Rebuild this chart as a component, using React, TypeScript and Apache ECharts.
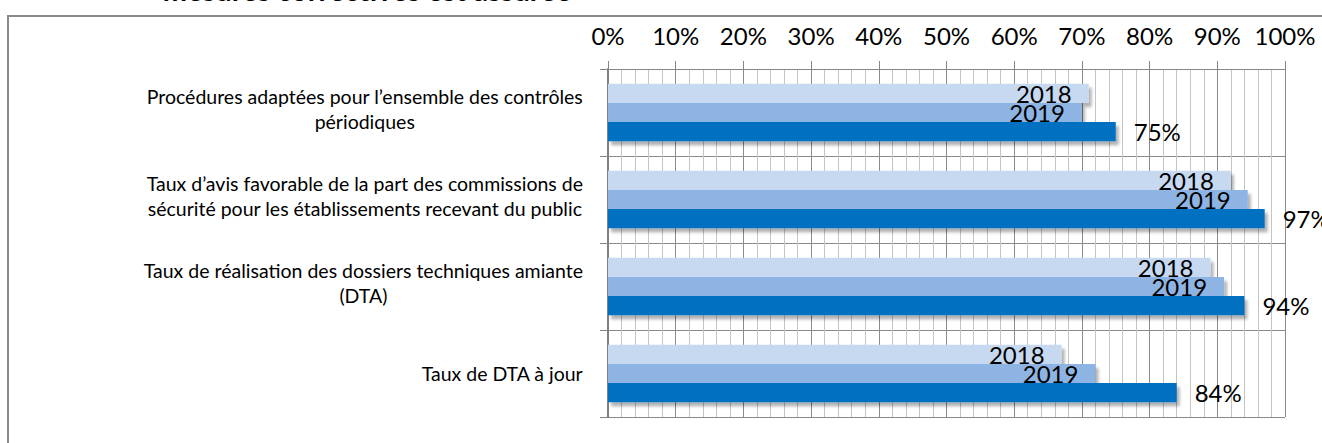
import React, { useEffect, useRef } from "react";
import * as echarts from "echarts";

const categories = [
  "Procédures adaptées pour l’ensemble des contrôles\npériodiques",
  "Taux d’avis favorable de la part des commissions de\nsécurité pour les établissements recevant du public",
  "Taux de réalisation des dossiers techniques amiante\n(DTA)",
  "Taux de DTA à jour",
];
const seriesNames = ["2018", "2019", "2020"];
const values2018 = [71, 92, 89, 67];
const values2019 = [70, 94.5, 91, 72];
const values2020 = [75, 97, 94, 84];
const titleText = "mesures correctives est assurée";

const FONT = "Lato, 'Liberation Sans', Arial, sans-serif";

export default function App() {
  const ref = useRef<HTMLDivElement>(null);
  useEffect(() => {
    if (!ref.current) return;
    const chart = echarts.init(ref.current, null, { renderer: "svg" });
    const shadow = {
      shadowColor: "rgba(0,0,0,0.3)",
      shadowBlur: 3,
      shadowOffsetX: 3,
      shadowOffsetY: 4,
    };
    const innerLabel = {
      show: true,
      position: "insideRight",
      distance: 17,
      formatter: (p: any) => p.seriesName,
      color: "#000",
      fontFamily: FONT,
      fontSize: 24,
    };
    chart.setOption({
      animation: false,
      backgroundColor: "#fff",
      textStyle: { fontFamily: FONT },
      graphic: [
        {
          type: "rect",
          shape: { x: 8, y: 16, width: 1400, height: 500 },
          style: { fill: "none", stroke: "#898989", lineWidth: 2 },
          silent: true,
        },
        {
          type: "text",
          x: 367,
          y: -11,
          style: {
            text: titleText,
            fontFamily: FONT,
            fontWeight: "bold",
            fontSize: 29,
            fill: "#000",
            align: "center",
            verticalAlign: "middle",
          },
        },
      ],
      grid: { left: 608, top: 69, right: 37, bottom: 26, containLabel: false },
      xAxis: {
        type: "value",
        position: "top",
        min: 0,
        max: 100,
        interval: 10,
        axisLine: { show: true, lineStyle: { color: "#868686", width: 1 } },
        axisTick: { show: true, length: 8, inside: false, lineStyle: { color: "#868686" } },
        axisLabel: {
          formatter: "{value}%",
          color: "#000",
          fontFamily: FONT,
          fontSize: 24,
          margin: 22,
        },
        splitLine: { show: true, lineStyle: { color: "#8a8a8a", width: 1 } },
        minorTick: { show: false, splitNumber: 5 },
        minorSplitLine: { show: true, lineStyle: { color: "#c4c4c4", width: 1 } },
      },
      yAxis: {
        type: "category",
        inverse: true,
        data: categories,
        axisLine: { show: true, lineStyle: { color: "#7f7f7f", width: 2 } },
        axisTick: { show: true, length: 8, lineStyle: { color: "#868686" } },
        splitLine: { show: true, lineStyle: { color: "#8a8a8a", width: 1 } },
        axisLabel: {
          margin: 25,
          align: "right",
          formatter: (v: string) => {
            const lines = v.split("\n");
            const body = lines.map((l) => `{c|${l}}`).join("\n");
            return lines.length > 1 ? body + "\n{s| }" : body;
          },
          rich: {
            c: {
              align: "center",
              fontFamily: FONT,
              fontSize: 19.5,
              lineHeight: 25,
              color: "#000",
            },
            s: {
              fontSize: 6,
              lineHeight: 8,
            },
          },
        },
      },
      series: [
        {
          name: seriesNames[0],
          type: "bar",
          data: values2018,
          barGap: "0%",
          barCategoryGap: "34%",
          itemStyle: { color: "#C6D9F1", ...shadow },
          label: innerLabel,
        },
        {
          name: seriesNames[1],
          type: "bar",
          data: values2019,
          barGap: "0%",
          barCategoryGap: "34%",
          itemStyle: { color: "#8EB4E3", ...shadow },
          label: innerLabel,
        },
        {
          name: seriesNames[2],
          type: "bar",
          data: values2020,
          barGap: "0%",
          barCategoryGap: "34%",
          itemStyle: { color: "#0070C0", ...shadow },
          label: {
            show: true,
            position: "right",
            distance: 18,
            formatter: "{c}%",
            color: "#000",
            fontFamily: FONT,
            fontSize: 24,
          },
        },
      ],
    });
    return () => chart.dispose();
  }, []);
  return (
    <div
      ref={ref}
      style={{ position: "fixed", left: 0, top: 0, width: 1322, height: 443 }}
    />
  );
}
